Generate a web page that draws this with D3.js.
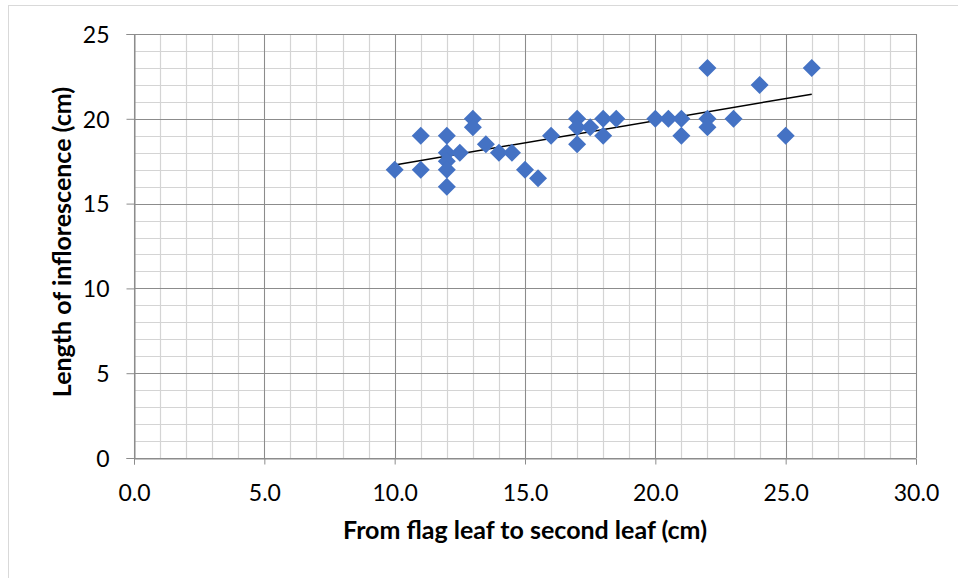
<!DOCTYPE html>
<html>
<head>
<meta charset="utf-8">
<script src="https://cdn.jsdelivr.net/npm/d3@7"></script>
<style>
  html, body { margin: 0; padding: 0; background: #fff; }
  svg { display: block; }
  text { font-family: Lato, "Open Sans", "Liberation Sans", sans-serif; fill: #000; }
</style>
</head>
<body>
<svg id="chart" width="958" height="578"></svg>
<script>
// Distance from flag leaf to second leaf (cm)
const leafDistance = [10, 11, 11, 12, 12, 12, 12, 12, 12.5, 13, 13, 13.5, 14, 14.5, 15, 15.5, 16,
  17, 17, 17, 17.5, 18, 18, 18.5, 20, 20.5, 21, 21, 22, 22, 22, 23, 24, 25, 26];
// Length of inflorescence (cm)
const inflorescence = [17, 19, 17, 19, 18, 17.5, 17, 16, 18, 20, 19.5, 18.5, 18, 18, 17, 16.5, 19,
  20, 19.5, 18.5, 19.5, 20, 19, 20, 20, 20, 20, 19, 23, 20, 19.5, 20, 22, 19, 23];

const xTicks = [0, 5, 10, 15, 20, 25, 30];
const yTicks = [0, 5, 10, 15, 20, 25];
const xTitle = "From flag leaf to second leaf (cm)";
const yTitle = "Length of inflorescence (cm)";

const svg = d3.select("#chart");
const plot = { left: 134, top: 34, right: 916, bottom: 458 };

const x = d3.scaleLinear().domain([0, 30]).range([plot.left, plot.right]);
const y = d3.scaleLinear().domain([0, 25]).range([plot.bottom, plot.top]);

// chart frame
svg.append("rect")
  .attr("x", 8.5).attr("y", 5.5).attr("width", 1000).attr("height", 1000)
  .attr("fill", "none").attr("stroke", "#d9d9d9").attr("stroke-width", 1);

// minor grid (every 1 unit)
const g = svg.append("g");
g.selectAll(".vminor").data(d3.range(0, 31, 1)).join("line")
  .attr("x1", d => Math.round(x(d)) + 0.5).attr("x2", d => Math.round(x(d)) + 0.5)
  .attr("y1", plot.top).attr("y2", plot.bottom)
  .attr("stroke", "#d4d4d4").attr("stroke-width", 1.2);
g.selectAll(".hminor").data(d3.range(0, 26, 1)).join("line")
  .attr("y1", d => Math.round(y(d)) + 0.5).attr("y2", d => Math.round(y(d)) + 0.5)
  .attr("x1", plot.left).attr("x2", plot.right)
  .attr("stroke", "#d4d4d4").attr("stroke-width", 1.2);

// major grid
g.selectAll(".vmajor").data(xTicks).join("line")
  .attr("x1", d => Math.round(x(d)) + 0.5).attr("x2", d => Math.round(x(d)) + 0.5)
  .attr("y1", plot.top).attr("y2", plot.bottom)
  .attr("stroke", "#8c8c8c").attr("stroke-width", 1);
g.selectAll(".hmajor").data(yTicks).join("line")
  .attr("y1", d => Math.round(y(d)) + 0.5).attr("y2", d => Math.round(y(d)) + 0.5)
  .attr("x1", plot.left).attr("x2", plot.right)
  .attr("stroke", "#8c8c8c").attr("stroke-width", 1);

// axes
const xAxis = d3.axisBottom(x).tickValues(xTicks).tickFormat(d3.format(".1f")).tickSize(6).tickPadding(20);
const yAxis = d3.axisLeft(y).tickValues(yTicks).tickFormat(d3.format("d")).tickSize(8).tickPadding(17);

const gx = svg.append("g").attr("transform", `translate(0,${Math.round(plot.bottom) + 0.5})`).call(xAxis);
const gy = svg.append("g").attr("transform", `translate(${Math.round(plot.left) + 0.5},0)`).call(yAxis);
[gx, gy].forEach(a => {
  a.select(".domain").attr("stroke", "#8c8c8c");
  a.selectAll(".tick line").attr("stroke", "#8c8c8c");
  a.selectAll(".tick text").style("font-size", "23px").attr("fill", "#000");
});
gy.selectAll(".tick text").attr("dy", "0.36em");

// linear trendline (least squares)
const n = leafDistance.length;
const mx = d3.mean(leafDistance), my = d3.mean(inflorescence);
let sxy = 0, sxx = 0;
for (let i = 0; i < n; i++) {
  sxy += (leafDistance[i] - mx) * (inflorescence[i] - my);
  sxx += (leafDistance[i] - mx) ** 2;
}
const slope = sxy / sxx, intercept = my - slope * mx;
const [xmin, xmax] = d3.extent(leafDistance);
svg.append("line")
  .attr("x1", x(xmin)).attr("y1", y(intercept + slope * xmin))
  .attr("x2", x(xmax)).attr("y2", y(intercept + slope * xmax))
  .attr("stroke", "#000").attr("stroke-width", 1.5);

// diamond markers
const r = 9;
const diamond = `M0,${-r}L${r},0L0,${r}L${-r},0Z`;
svg.append("g").selectAll("path").data(leafDistance.map((d, i) => [d, inflorescence[i]])).join("path")
  .attr("d", diamond)
  .attr("transform", d => `translate(${x(d[0])},${y(d[1])})`)
  .attr("fill", "#4472C4");

// axis titles
svg.append("text")
  .attr("x", 525).attr("y", 539)
  .attr("text-anchor", "middle")
  .style("font-size", "25px").style("font-weight", "bold")
  .text(xTitle);
svg.append("text")
  .attr("transform", "translate(71,242) rotate(-90)")
  .attr("text-anchor", "middle")
  .style("font-size", "25px").style("font-weight", "bold")
  .text(yTitle);
</script>
</body>
</html>
